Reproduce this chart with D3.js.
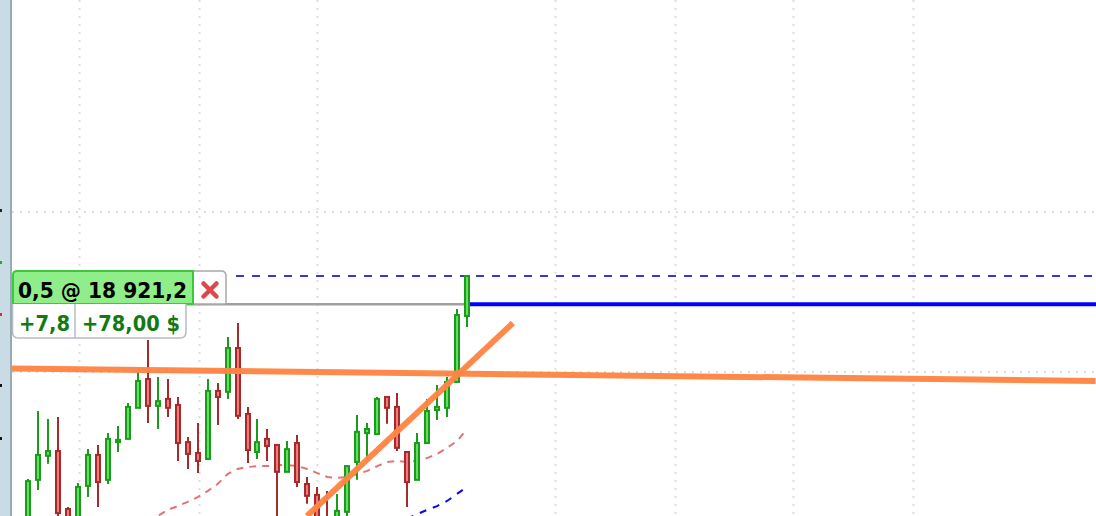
<!DOCTYPE html>
<html><head><meta charset="utf-8">
<script src="https://cdn.jsdelivr.net/npm/d3@7"></script>
<style>html,body{margin:0;padding:0;background:#fff;overflow:hidden}</style>
</head><body>
<svg id="c" width="1096" height="516"></svg>
<script>
// ---- data (prices) ----
const opens  = [18850.6,18866.3,18873.8,18875.3,18857.2,18850.6,18864.4,18874.1,18866.3,18878.1,18879.1,18888.8,18897.8,18889.4,18891.6,18889.7,18878.1,18874.7,18872.8,18894.1,18893.8,18907.5,18886.9,18875.0,18879.1,18877.2,18868.8,18877.8,18865.0,18861.6,18853.8,18850.6,18856.3,18871.9,18880.9,18880.6,18892.2,18889.1,18875.0,18866.3,18877.8,18888.1,18888.8,18896.9,18917.5];
const highs  = [18866.6,18887.8,18885.3,18885.9,18857.8,18865.3,18875.9,18877.2,18880.9,18883.1,18890.3,18900.0,18910.0,18898.4,18897.8,18892.2,18879.7,18884.1,18897.8,18896.6,18910.9,18915.3,18889.1,18885.3,18882.2,18877.2,18878.4,18880.3,18867.2,18864.1,18862.8,18861.9,18870.6,18886.6,18884.1,18892.2,18892.2,18893.4,18875.0,18880.9,18891.6,18895.9,18898.4,18919.7,18930.0];
const lows   = [18849.1,18863.1,18871.3,18853.8,18847.5,18847.5,18860.9,18857.8,18865.0,18875.0,18879.1,18888.8,18884.1,18882.2,18885.9,18872.2,18869.7,18868.4,18872.5,18883.4,18891.6,18885.3,18871.6,18872.8,18872.2,18850.6,18868.8,18864.1,18858.8,18850.6,18847.5,18849.1,18854.4,18866.3,18872.5,18880.6,18883.8,18875.3,18857.8,18866.3,18877.5,18885.0,18885.9,18896.9,18914.1];
const closes = [18865.9,18874.1,18875.3,18855.9,18850.6,18864.1,18874.1,18865.6,18879.1,18878.8,18889.1,18897.2,18889.4,18890.9,18888.8,18877.8,18874.4,18872.2,18894.1,18892.2,18907.5,18886.3,18875.6,18878.1,18876.9,18868.8,18875.9,18865.6,18861.3,18853.8,18849.1,18856.6,18870.6,18881.3,18882.2,18891.6,18888.8,18876.3,18865.6,18877.8,18887.8,18889.1,18896.9,18917.8,18930.0];
// moving averages (index -> value)
const maRedStart = 12;
const maRed = [18853.1,18855.0,18856.9,18858.1,18859.4,18860.9,18862.8,18865.0,18868.1,18869.7,18870.3,18870.6,18870.6,18870.9,18870.9,18870.6,18869.7,18868.4,18867.2,18866.9,18867.2,18868.1,18869.1,18870.6,18871.9,18872.2,18871.9,18872.2,18873.1,18874.4,18876.3,18878.4,18882.2];
const maBlueStart = 38;
const maBlue = [18854.1,18855.6,18856.9,18858.1,18859.7,18861.9,18864.1];
// trend lines [index, price]
const trend1 = [[-1.6,18901.1],[107.0,18897.2]];
const trend2 = [[27.96,18855.0],[48.6,18915.3]];
// position
const entryPrice = 18921.2;
const lastPrice = 18930.0;
const posLabel = "0,5 @ 18 921,2";
const pnlPts = "+7,8";
const pnlUsd = "+78,00 $";
// grid
const gridPrices = [18900, 18950];
const gridIdx = [5.1, 17.1, 29.0, 52.8, 64.8, 76.7, 88.7];
const axisMarks = [[18950.6,"#222"],[18934.4,"#22aa22"],[18918.1,"#ee2222"],[18895.9,"#111"],[18879.4,"#111"]];

// ---- scales ----
const W = 1096, H = 516, left = 12;
const x = d3.scaleLinear().domain([0, 44]).range([28, 467]);
const y = d3.scaleLinear().domain([18850, 18950]).range([532, 212]);
const svg = d3.select("#c");

svg.append("defs").append("clipPath").attr("id","plot")
  .append("rect").attr("x",left).attr("y",0).attr("width",W-left).attr("height",H);
const g = svg.append("g").attr("clip-path","url(#plot)");

// grid
g.selectAll(".gv").data(gridIdx).join("line")
  .attr("x1",d=>Math.round(x(d))+0.5).attr("x2",d=>Math.round(x(d))+0.5)
  .attr("y1",0).attr("y2",H)
  .attr("stroke","#dcdce8").attr("stroke-width",2).attr("stroke-dasharray","2,6");
g.selectAll(".gh").data(gridPrices).join("line")
  .attr("x1",left).attr("x2",W)
  .attr("y1",d=>Math.round(y(d))).attr("y2",d=>Math.round(y(d)))
  .attr("stroke","#dcdce8").attr("stroke-width",2).attr("stroke-dasharray","2,6");

// moving averages
const lineGen = d3.line().x(d=>x(d[0])).y(d=>y(d[1]));
g.append("path").datum(maRed.map((v,i)=>[maRedStart+i,v]))
  .attr("d",lineGen).attr("fill","none").attr("stroke","#e07474").attr("stroke-width",2)
  .attr("stroke-dasharray","7,6");
g.append("path").datum(maBlue.map((v,i)=>[maBlueStart+i,v]))
  .attr("d",lineGen).attr("fill","none").attr("stroke","#0a0ae6").attr("stroke-width",2)
  .attr("stroke-dasharray","7,7");

// candles
const candles = opens.map((o,i)=>({i,o,h:highs[i],l:lows[i],c:closes[i]}));
const cg = g.selectAll(".cd").data(candles).join("g");
cg.append("line")
  .attr("x1",d=>Math.round(x(d.i))).attr("x2",d=>Math.round(x(d.i)))
  .attr("y1",d=>y(d.h)).attr("y2",d=>y(d.l))
  .attr("stroke",d=>d.c>=d.o?"#1c9a1c":"#a62a2a").attr("stroke-width",2);
cg.append("rect")
  .attr("x",d=>Math.round(x(d.i))-2).attr("width",4)
  .attr("y",d=>y(Math.max(d.o,d.c)))
  .attr("height",d=>Math.max(1,Math.abs(y(d.o)-y(d.c))))
  .attr("fill",d=>d.c>=d.o?"#5fe05f":"#f07a7a")
  .attr("stroke",d=>d.c>=d.o?"#1c9a1c":"#a62a2a").attr("stroke-width",2);

// trend lines
[trend1,trend2].forEach(t=>{
  g.append("line").attr("x1",x(t[0][0])).attr("y1",y(t[0][1]))
   .attr("x2",x(t[1][0])).attr("y2",y(t[1][1]))
   .attr("stroke","#ff8544").attr("stroke-width",6).attr("stroke-opacity",0.97);
});

// position lines
const lastX = x(44);
g.append("line").attr("x1",left).attr("x2",lastX).attr("y1",y(entryPrice)).attr("y2",y(entryPrice))
  .attr("stroke","#a0a0a0").attr("stroke-width",2.5);
g.append("line").attr("x1",236).attr("x2",W).attr("y1",Math.round(y(lastPrice))).attr("y2",Math.round(y(lastPrice)))
  .attr("stroke","#3535dd").attr("stroke-width",2).attr("stroke-dasharray","8,8");
g.append("line").attr("x1",lastX).attr("x2",W).attr("y1",y(entryPrice)).attr("y2",y(entryPrice))
  .attr("stroke","#0000ff").attr("stroke-width",4);
// redraw last candle over the gray line
const lc = candles[44];
g.append("line").attr("x1",Math.round(x(44))).attr("x2",Math.round(x(44)))
  .attr("y1",y(lc.h)).attr("y2",y(lc.l)).attr("stroke","#1c9a1c").attr("stroke-width",2);
g.append("rect").attr("x",Math.round(x(44))-2).attr("width",4)
  .attr("y",y(lc.c)).attr("height",y(lc.o)-y(lc.c))
  .attr("fill","#5fe05f").attr("stroke","#1c9a1c").attr("stroke-width",2);

// labels
const ey = Math.round(y(entryPrice));
const lab = svg.append("g");
// X box
lab.append("path").attr("d",`M193,${ey} V271 H221 Q226,271 226,276 V${ey} Z`)
  .attr("fill","#fff").attr("stroke","#a8a8a8").attr("stroke-width",1.5);
lab.append("path").attr("d","M203.5,283.5 L216.5,296.5 M216.5,283.5 L203.5,296.5")
  .attr("stroke","#dd4848").attr("stroke-width",4.5).attr("stroke-linecap","round").attr("fill","none");
// green box
lab.append("path").attr("d",`M13,${ey} V275 Q13,271 17,271 H193 V${ey} Z`)
  .attr("fill","#90ee8a").attr("stroke","#3cc83c").attr("stroke-width",2);
lab.append("text").attr("x",18).attr("y",ey-6)
  .attr("font-family","DejaVu Sans").attr("font-weight","bold").attr("font-size",22)
  .attr("fill","#000").attr("textLength",169).attr("lengthAdjust","spacingAndGlyphs").text(posLabel);
// pnl box
lab.append("path").attr("d",`M12.5,${ey} V332 Q12.5,338 18.5,338 H180 Q186,338 186,332 V${ey}`)
  .attr("fill","#fff").attr("stroke","#b4bcc0").attr("stroke-width",1.5);
lab.append("line").attr("x1",75).attr("x2",75).attr("y1",ey).attr("y2",338)
  .attr("stroke","#b4bcc0").attr("stroke-width",1.5);
lab.append("text").attr("x",19).attr("y",331)
  .attr("font-family","DejaVu Sans").attr("font-weight","bold").attr("font-size",22)
  .attr("fill","#137a13").attr("textLength",51).attr("lengthAdjust","spacingAndGlyphs").text(pnlPts);
lab.append("text").attr("x",82).attr("y",331)
  .attr("font-family","DejaVu Sans").attr("font-weight","bold").attr("font-size",22)
  .attr("fill","#137a13").attr("textLength",98).attr("lengthAdjust","spacingAndGlyphs").text(pnlUsd);

// left axis panel
svg.append("rect").attr("x",0).attr("y",0).attr("width",10).attr("height",H).attr("fill","#c9dbe4");
svg.append("rect").attr("x",10).attr("y",0).attr("width",2).attr("height",H).attr("fill","#98aab4");
svg.selectAll(".am").data(axisMarks).join("rect")
  .attr("x",0).attr("y",d=>Math.round(y(d[0]))-1).attr("width",2).attr("height",3).attr("fill",d=>d[1]);
</script>
</body></html>
